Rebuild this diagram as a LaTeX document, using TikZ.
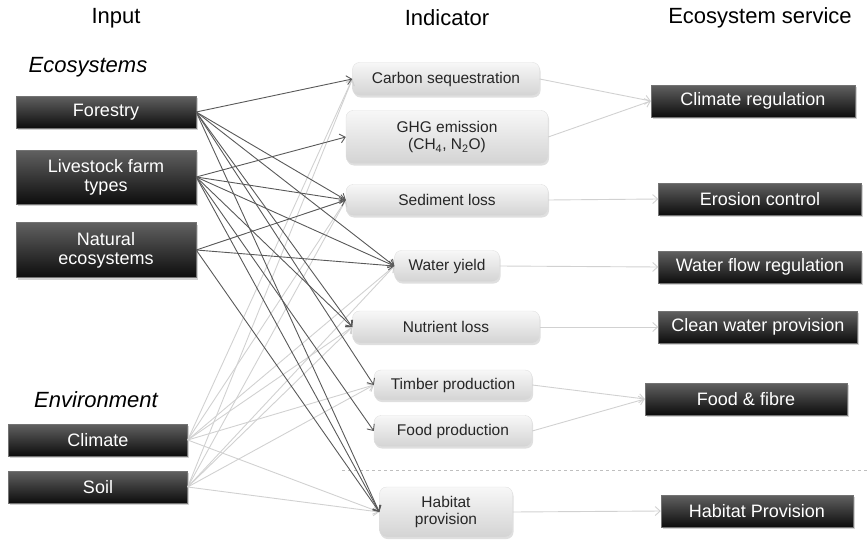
\documentclass[tikz,border=0pt]{standalone}
\usepackage{fontspec}
\setmainfont{Liberation Sans}
\usetikzlibrary{arrows.meta,shadows}

\begin{document}
\begin{tikzpicture}[x=1pt,y=-1pt,
  blackbox/.style={rectangle, top color=black!62, middle color=black!88, bottom color=black!95, draw=black!55,
    text=white, font=\fontsize{18}{19}\selectfont, align=center, inner sep=1pt,
    drop shadow={shadow xshift=1.5pt, shadow yshift=-2pt, opacity=0.35}},
  graybox/.style={rectangle, rounded corners=7pt, top color=black!3, bottom color=black!17,
    draw=black!12, text=black!85, font=\fontsize{15.5}{17}\selectfont, align=center, inner sep=1pt,
    drop shadow={shadow xshift=1pt, shadow yshift=-2pt, opacity=0.25}},
  header/.style={font=\fontsize{22}{24}\selectfont},
  darkline/.style={draw=black!65, line width=0.9pt, -{Straight Barb[length=5pt,width=9pt]}},
  lightline/.style={draw=black!18, line width=0.9pt, -{Straight Barb[length=5pt,width=9pt]}}]
\useasboundingbox (0,0) rectangle (867,543);

% Ueberschriften
\node[header] (hin) at (116,18) {Input};
\node[header] (hind) at (447,18) {Indicator};
\node[header] (hes) at (760,18) {Ecosystem service};
\node[header, font=\fontsize{22}{24}\selectfont\itshape] (heco) at (88,67) {Ecosystems};
\node[header, font=\fontsize{22}{24}\selectfont\itshape] (henv) at (96,400) {Environment};

% Input
\node[blackbox, minimum width=180pt, minimum height=32pt] (forest) at (106,112) {Forestry};
\node[blackbox, minimum width=180pt, minimum height=54pt] (livest) at (106,177) {Livestock farm\\types};
\node[blackbox, minimum width=180pt, minimum height=55pt] (natural) at (106,250) {Natural\\ecosystems};
\node[blackbox, minimum width=179pt, minimum height=32pt] (climate) at (98,440) {Climate};
\node[blackbox, minimum width=179pt, minimum height=32pt] (soil) at (98,487) {Soil};

% Indicator
\node[graybox, minimum width=187pt, minimum height=33pt] (carbon) at (446,79) {Carbon sequestration};
\node[graybox, minimum width=202pt, minimum height=53pt] (ghg) at (447,137) {GHG emission\\(CH\textsubscript{4}, N\textsubscript{2}O)};
\node[graybox, minimum width=202pt, minimum height=31pt] (sed) at (447,200) {Sediment loss};
\node[graybox, minimum width=105pt, minimum height=31pt] (water) at (447,266) {Water yield};
\node[graybox, minimum width=187pt, minimum height=32pt] (nutr) at (446,327) {Nutrient loss};
\node[graybox, minimum width=158pt, minimum height=30pt] (timber) at (453,385) {Timber production};
\node[graybox, minimum width=158pt, minimum height=31pt] (food) at (453,431) {Food production};
\node[graybox, minimum width=133pt, minimum height=50pt] (habitat) at (446,512) {Habitat\\provision};

% Ecosystem service
\node[blackbox, minimum width=204pt, minimum height=32pt] (climreg) at (753,101) {Climate regulation};
\node[blackbox, minimum width=203pt, minimum height=32pt] (erosion) at (760,199) {Erosion control};
\node[blackbox, minimum width=203pt, minimum height=32pt] (flow) at (760,267) {Water flow regulation};
\node[blackbox, minimum width=199pt, minimum height=32pt] (clean) at (758,327) {Clean water provision};
\node[blackbox, minimum width=202pt, minimum height=32pt] (fibre) at (746,399) {Food \& fibre};
\node[blackbox, minimum width=192pt, minimum height=32pt] (habprov) at (757,511) {Habitat Provision};

\draw[black!25, dashed, line width=0.6pt] (342,470) -- (867,470);

% Umwelt -> Indikator (hell)
\foreach \i in {carbon,sed,water,nutr,timber,habitat}{
  \draw[lightline] (climate.east) -- (\i.west);
  \draw[lightline] (soil.east) -- (\i.west);
}
% Indikator -> Leistung
\draw[lightline] (carbon.east) -- (climreg.west);
\draw[lightline] (ghg.east) -- (climreg.west);
\draw[lightline] (sed.east) -- (erosion.west);
\draw[lightline] (water.east) -- (flow.west);
\draw[lightline] (nutr.east) -- (clean.west);
\draw[lightline] (timber.east) -- (fibre.west);
\draw[lightline] (food.east) -- (fibre.west);
\draw[lightline] (habitat.east) -- (habprov.west);

% Oekosysteme -> Indikator (dunkel)
\foreach \i in {carbon,sed,water,nutr,timber,habitat}
  \draw[darkline] (forest.east) -- (\i.west);
\foreach \i in {ghg,sed,water,nutr,food,habitat}
  \draw[darkline] (livest.east) -- (\i.west);
\foreach \i in {sed,water,habitat}
  \draw[darkline] (natural.east) -- (\i.west);
\end{tikzpicture}
\end{document}
